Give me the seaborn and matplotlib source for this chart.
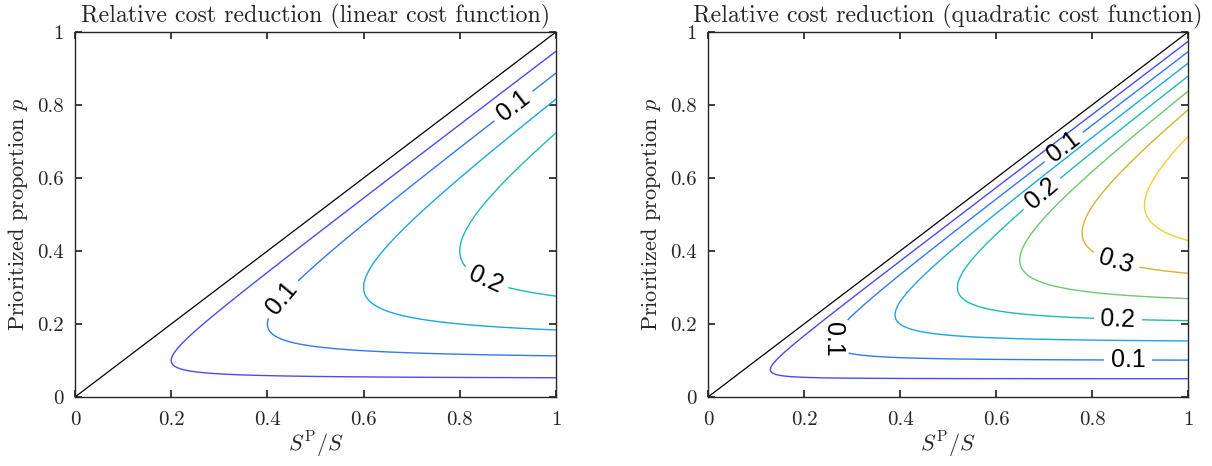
import numpy as np
import pandas as pd
import matplotlib
matplotlib.use("Agg")
import matplotlib.pyplot as plt
from matplotlib.colors import LinearSegmentedColormap, Normalize
import seaborn as sns

# ---- data ----
titles = ["Relative cost reduction (linear cost function)",
          "Relative cost reduction (quadratic cost function)"]
cost_exponents = [1, 2]                       # linear, quadratic cost
levels_linear = [0.05, 0.10, 0.15, 0.20]
levels_quadratic = [0.05, 0.10, 0.15, 0.20, 0.25, 0.30, 0.35]
labelled_levels = [0.1, 0.2, 0.3]
tick_values = [0, 0.2, 0.4, 0.6, 0.8, 1]
tick_labels = ["0", "0.2", "0.4", "0.6", "0.8", "1"]
diag_x = [0, 1]
diag_p = [0, 1]
xlabel = r"$S^{\mathrm{P}}/S$"
ylabel = r"Prioritized proportion $p$"

# label anchor points (approximate where the labels sit)
label_pos_linear = [(0.43, 0.27), (0.91, 0.80), (0.85, 0.31)]
label_pos_quadratic = [(0.258, 0.16), (0.875, 0.10), (0.744, 0.68),
                       (0.69, 0.565), (0.854, 0.206), (0.848, 0.362)]

# parula-like colour map
cmap = LinearSegmentedColormap.from_list("parula_like", [
    (0.000, "#352a87"), (0.125, "#4a4cf0"), (0.250, "#3478f0"),
    (0.375, "#1ea6e4"), (0.500, "#1cbcb2"), (0.625, "#6cc870"),
    (0.750, "#d4b434"), (0.875, "#f8cc38"), (1.000, "#f9fb0e")])
norm = Normalize(0, 0.4)

sns.set_theme(style="ticks")
plt.rcParams.update({
    "font.family": ["cmr10", "DejaVu Serif"],
    "mathtext.fontset": "cm",
    "axes.formatter.use_mathtext": True,
    "axes.edgecolor": "#262626",
    "axes.linewidth": 1.0,
    "xtick.direction": "in", "ytick.direction": "in",
    "xtick.top": True, "ytick.right": True,
    "xtick.color": "#262626", "ytick.color": "#262626",
    "xtick.major.size": 5, "ytick.major.size": 5,
})

fig = plt.figure(figsize=(12.12, 4.66), dpi=100)
ax_l = fig.add_axes([75 / 1212, 69 / 466, 481 / 1212, 365 / 466])
ax_r = fig.add_axes([708 / 1212, 69 / 466, 480 / 1212, 365 / 466])

xs = np.linspace(1e-4, 1, 700)
ps = np.linspace(0, 1, 700)
X, P = np.meshgrid(xs, ps)

for ax, title, k, levels, lpos in zip(
        [ax_l, ax_r], titles, cost_exponents,
        [levels_linear, levels_quadratic],
        [label_pos_linear, label_pos_quadratic]):
    Z = P * (1 - (P / X) ** k)
    Z = np.where(P <= X, Z, np.nan)
    lab = [lv for lv in levels if any(abs(lv - l) < 1e-9 for l in labelled_levels)]
    unlab = [lv for lv in levels if lv not in lab]
    ax.contour(X, P, Z, levels=unlab, cmap=cmap, norm=norm, linewidths=1.0)
    cs = ax.contour(X, P, Z, levels=lab, cmap=cmap, norm=norm, linewidths=1.0)
    texts = ax.clabel(cs, manual=lpos, inline=True,
                      inline_spacing=8, fontsize=18, fmt="%.1f",
                      colors="black")
    for t in texts:
        t.set_fontfamily("Liberation Sans")
        t.set_fontsize(18)
        tx, ty = t.get_position()
        if tx < 0.35 and ty < 0.25 and abs(abs(t.get_rotation()) - 90) < 20:
            t.set_rotation(-90)
    df = pd.DataFrame({"x": diag_x, "p": diag_p})
    sns.lineplot(data=df, x="x", y="p", ax=ax, color="black", linewidth=0.9)
    ax.set_xlim(0, 1)
    ax.set_ylim(0, 1)
    ax.set_xticks(tick_values)
    ax.set_xticklabels(tick_labels, fontsize=15)
    ax.set_yticks(tick_values)
    ax.set_yticklabels(tick_labels, fontsize=15)
    ax.tick_params(axis="x", pad=10)
    ax.tick_params(axis="y", pad=8)
    ax.set_xlabel(xlabel, fontsize=16, labelpad=1)
    ax.set_ylabel(ylabel, fontsize=16, labelpad=5)
    ax.set_title(title, fontsize=17.2, pad=7)
    for s in ax.spines.values():
        s.set_visible(True)

fig.savefig("out.png", dpi=100, facecolor="white")
